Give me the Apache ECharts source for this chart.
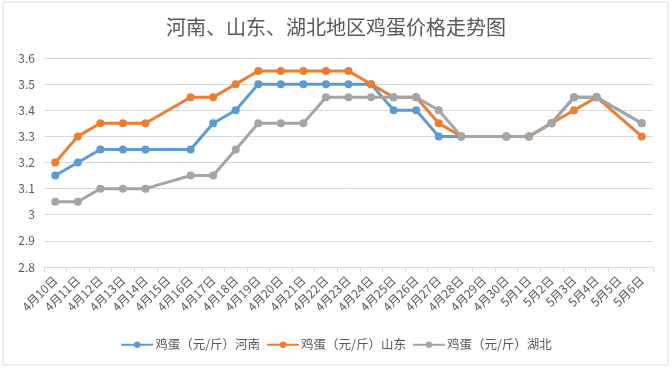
<!DOCTYPE html>
<html><head><meta charset="utf-8">
<script src="https://cdn.jsdelivr.net/npm/echarts@6/dist/echarts.min.js"></script>
<style>html,body{margin:0;padding:0;background:#fff}#c{width:672px;height:368px}</style>
</head><body><div id="c"></div>
<script>
const categories = ['4月10日','4月11日','4月12日','4月13日','4月14日','4月15日','4月16日','4月17日','4月18日','4月19日','4月20日','4月21日','4月22日','4月23日','4月24日','4月25日','4月26日','4月27日','4月28日','4月29日','4月30日','5月1日','5月2日','5月3日','5月4日','5月5日','5月6日'];
const henan =    [3.15,3.2,3.25,3.25,3.25,null,3.25,3.35,3.4,3.5,3.5,3.5,3.5,3.5,3.5,3.4,3.4,3.3,3.3,null,3.3,3.3,3.35,3.45,3.45,null,3.35];
const shandong = [3.2,3.3,3.35,3.35,3.35,null,3.45,3.45,3.5,3.55,3.55,3.55,3.55,3.55,3.5,3.45,3.45,3.35,3.3,null,3.3,3.3,3.35,3.4,3.45,null,3.3];
const hubei =    [3.05,3.05,3.1,3.1,3.1,null,3.15,3.15,3.25,3.35,3.35,3.35,3.45,3.45,3.45,3.45,3.45,3.4,3.3,null,3.3,3.3,3.35,3.45,3.45,null,3.35];
const seriesNames = ['鸡蛋（元/斤）河南','鸡蛋（元/斤）山东','鸡蛋（元/斤）湖北'];
const colors = ['#5B9BD5','#ED7D31','#A5A5A5'];
const FONT = '"Noto Sans CJK SC", "Noto Sans", sans-serif';
const chart = echarts.init(document.getElementById('c'), null, {renderer:'canvas'});
const mk = (name, data, color) => ({
  name, type:'line', data, connectNulls:true, symbol:'circle', symbolSize:8,
  itemStyle:{color}, lineStyle:{color, width:3}, emphasis:{disabled:true}
});
chart.setOption({
  animation:false,
  textStyle:{fontFamily:FONT},
  graphic:[{type:'rect', shape:{x:3,y:2,width:665,height:363}, style:{fill:'none', stroke:'#d9d9d9', lineWidth:1}, silent:true}],
  title:{text:'河南、山东、湖北地区鸡蛋价格走势图', left:'center', top:12,
    textStyle:{fontFamily:FONT, fontSize:20, fontWeight:'normal', color:'#595959'}},
  legend:{bottom:12, left:'center', itemWidth:32, itemHeight:8, itemGap:6,
    textStyle:{fontFamily:FONT, fontSize:12.5, color:'#595959', padding:[0,0,0,-3]},
    data:seriesNames},
  grid:{left:44, right:19, top:58, bottom:101, containLabel:false},
  xAxis:{type:'category', data:categories, boundaryGap:true,
    axisLine:{lineStyle:{color:'#d9d9d9'}},
    axisTick:{show:true, length:5, lineStyle:{color:'#d9d9d9'}},
    axisLabel:{rotate:45, interval:0, fontSize:12, color:'#595959', margin:11, fontFamily:FONT}},
  yAxis:{type:'value', min:2.8, max:3.6, interval:0.1,
    axisLine:{show:false}, axisTick:{show:false},
    splitLine:{lineStyle:{color:'#d9d9d9'}},
    axisLabel:{fontSize:12, color:'#595959', margin:9, fontFamily:FONT, formatter:v=>String(+v.toFixed(1))}},
  series:[mk(seriesNames[0],henan,colors[0]), mk(seriesNames[1],shandong,colors[1]), mk(seriesNames[2],hubei,colors[2])]
});
</script></body></html>
